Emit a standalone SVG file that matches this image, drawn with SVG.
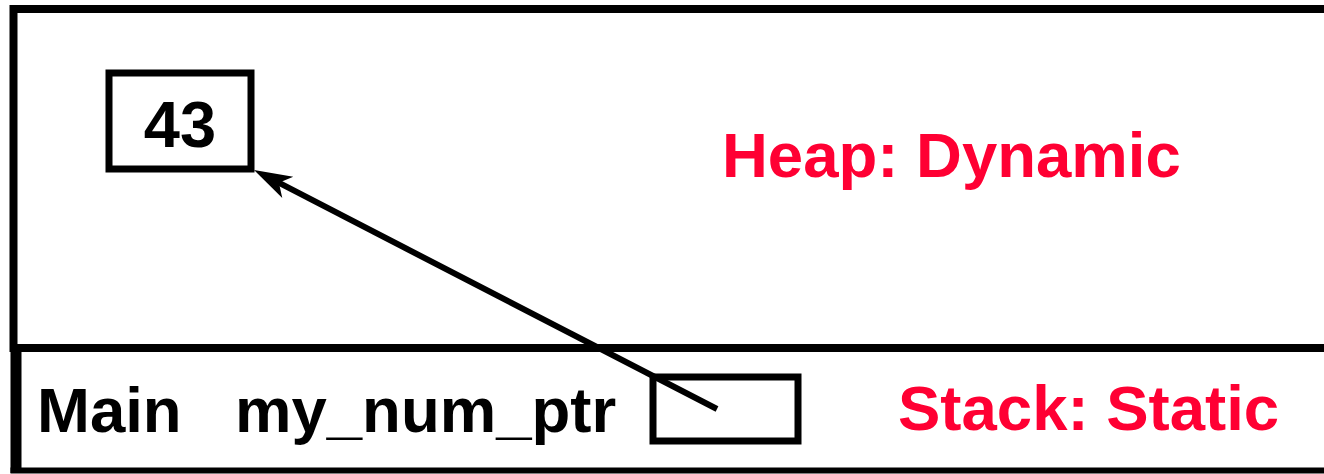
<svg xmlns="http://www.w3.org/2000/svg" width="1324" height="474" viewBox="0 0 1324 474">
<style>
.frame{fill:none;stroke:#000;stroke-width:8}
.box{fill:#fff;stroke:#000;stroke-width:7}
.lbl{font-family:"Liberation Sans",Arial,sans-serif;font-weight:bold;font-size:63.5px;fill:#000}
.red{fill:#FF0033}
.conn{fill:none;stroke:#000;stroke-width:6}
</style>
<defs>
<marker id="arr" markerUnits="userSpaceOnUse" markerWidth="60" markerHeight="40" refX="-18" refY="0" orient="auto" overflow="visible">
<path d="M0,0 L-38,-12 L-28,0 L-38,12 Z" fill="#000"/>
</marker>
</defs>
<rect width="1324" height="474" fill="#fff"/>
<g id="heap">
<path class="frame" d="M1330,9 H13.5 V348 H1330"/>
<text class="lbl red" x="722" y="177">Heap: Dynamic</text>
</g>
<g id="stack">
<path class="frame" d="M16,344 V473" style="stroke-width:11"/>
<path class="frame" d="M10.5,348 H1330"/>
<path class="frame" d="M10.5,470.5 H1330" style="stroke-width:6"/>
<text class="lbl" x="37" y="432">Main</text>
<text class="lbl" x="235" y="432">my_num_ptr</text>
<text class="lbl red" x="898" y="430">Stack: Static</text>
</g>
<g id="value43">
<rect class="box" x="109" y="73" width="142" height="96"/>
<text class="lbl" x="180" y="147" text-anchor="middle" style="font-size:65px">43</text>
</g>
<g id="ptrbox">
<rect class="box" x="653" y="377" width="145" height="64"/>
</g>
<g id="connectors">
<path class="conn" d="M717,409 L270,178.2" marker-end="url(#arr)"/>
</g>
</svg>
